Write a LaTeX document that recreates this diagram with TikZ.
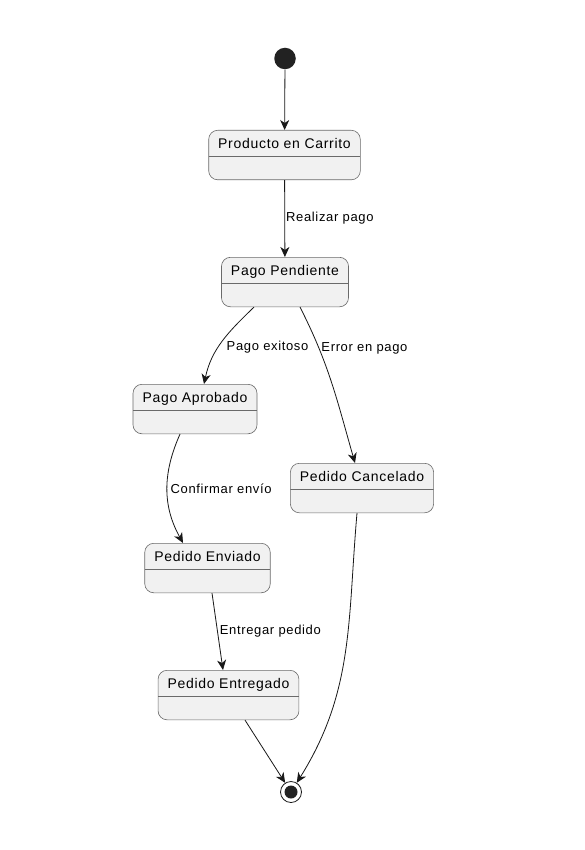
\documentclass[tikz,border=0pt]{standalone}
\usepackage{fontspec}
\setmainfont{Liberation Sans}[LetterSpace=5]
\usetikzlibrary{arrows.meta}
\definecolor{statefill}{HTML}{F1F1F1}
\definecolor{stateline}{HTML}{6A6A6A}
\definecolor{dotfill}{HTML}{222222}
\definecolor{edgeline}{HTML}{181818}

\begin{document}
\begin{tikzpicture}[x=1pt, y=1pt, -{Stealth[length=10pt,width=9pt,inset=3pt]}, color=edgeline, line width=0.8pt,
      every node/.append style={color=black},
      statebox/.style={draw=stateline, fill=statefill, rounded corners=9pt, line width=0.6pt, anchor=north,
        inner xsep=9.5pt, inner ysep=6pt, text height=12pt, text depth=25.5pt, font=\fontsize{14}{17}\selectfont,
        path picture={\draw[stateline, line width=0.6pt, -] ([yshift=-26pt]path picture bounding box.north west)
          -- ([yshift=-26pt]path picture bounding box.north east);}},
      startdot/.style={circle, fill=dotfill, minimum size=21.5pt, inner sep=0pt},
      enddot/.style={circle, draw=edgeline, fill=white, line width=0.8pt, minimum size=21pt, inner sep=0pt,
        path picture={\fill[dotfill] (path picture bounding box.center) circle (6.5pt);}}]
    \tikzstyle{lbl} = [anchor=west, inner sep=1pt, font=\fontsize{13}{15}\selectfont]
    \path[use as bounding box, fill=white] (0,0) rectangle (585,-850);

    % states
    \node (init) [startdot] at (285,-58.5) {};
    \node (prod) [statebox] at (284.5,-130) {Producto en Carrito};
    \node (pend) [statebox] at (285,-257) {Pago Pendiente};
    \node (aprob) [statebox] at (195,-384) {Pago Aprobado};
    \node (canc) [statebox] at (362,-463) {Pedido Cancelado};
    \node (env) [statebox] at (207.5,-543) {Pedido Enviado};
    \node (ent) [statebox] at (228.5,-670) {Pedido Entregado};
    \node (final) [enddot] at (291,-792) {};

    % transitions
    \draw (init) -- (prod);
    \draw (prod) -- node [lbl] {Realizar pago} (pend);
    \draw ([xshift=-31pt]pend.south) to[out=224,in=78]
      node [lbl, pos=.58, xshift=7pt] {Pago exitoso} ([xshift=9pt]aprob.north);
    \draw ([xshift=15pt]pend.south) to[out=-63,in=106]
      node [lbl, pos=.26, xshift=1pt] {Error en pago} ([xshift=-7pt]canc.north);
    \draw ([xshift=-15pt]aprob.south) to[out=246,in=119]
      node [lbl, pos=.5, xshift=2pt] {Confirmar envío} ([xshift=-24.5pt]env.north);
    \draw ([xshift=4.5pt]env.south) -- node [lbl, xshift=1pt] {Entregar pedido} ([xshift=-5.5pt]ent.north);
    \draw ([xshift=16.5pt]ent.south) -- (final);
    \draw ([xshift=-5pt]canc.south) to[out=265,in=58] (final);
\end{tikzpicture}
\end{document}
